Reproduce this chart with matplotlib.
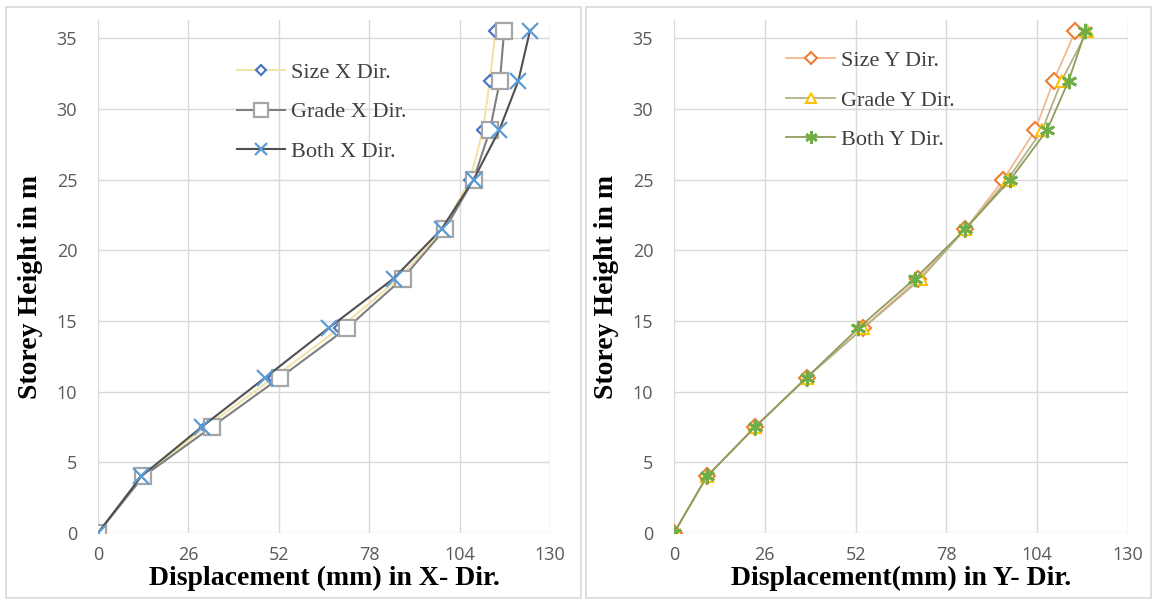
import matplotlib
matplotlib.use("Agg")
import matplotlib.pyplot as plt
from matplotlib.patches import Rectangle

# ---------------- data ----------------
heights = [0, 4, 7.5, 11, 14.5, 18, 21.5, 25, 28.5, 32, 35.5]

size_x = [0, 12.6, 31.0, 50.5, 69.5, 86.5, 99.3, 107.0, 110.7, 112.7, 114.3]
grade_x = [0, 13.0, 32.7, 52.4, 71.6, 87.6, 99.8, 108.0, 112.7, 115.6, 116.8]
both_x = [0, 12.4, 29.8, 48.1, 66.3, 85.0, 98.8, 108.0, 115.4, 120.9, 124.2]

size_y = [0, 9.4, 23.2, 38.0, 54.0, 70.0, 83.4, 94.3, 103.4, 108.7, 114.9]
grade_y = [0, 9.4, 23.2, 38.0, 54.2, 70.7, 83.4, 95.5, 105.4, 111.0, 118.3]
both_y = [0, 9.4, 23.2, 38.0, 52.8, 69.0, 83.4, 96.3, 106.8, 113.0, 117.8]

x_ticks = [0, 26, 52, 78, 104, 130]
y_ticks = [0, 5, 10, 15, 20, 25, 30, 35]

labels_x = ["Size X Dir.", "Grade X Dir.", "Both X Dir."]
labels_y = ["Size Y Dir.", "Grade Y Dir.", "Both Y Dir."]

# ---------------- figure ----------------
fig = plt.figure(figsize=(11.56, 6.0), dpi=100)
W, H = 1156, 600

# panel frames
for (x0, x1) in [(6, 581), (586, 1151)]:
    fig.patches.append(Rectangle((x0 / W, 1 - 598 / H), (x1 - x0) / W, (598 - 7) / H,
                                 transform=fig.transFigure, fill=False,
                                 edgecolor="#d9d9d9", linewidth=1.2))

serif = "Liberation Serif"
tickfont = "Open Sans"

def style_axes(ax):
    ax.set_xlim(0, 130)
    ax.set_ylim(0, 36.3)
    ax.set_xticks(x_ticks)
    ax.set_yticks(y_ticks)
    ax.grid(True, color="#d9d9d9", linewidth=1.0)
    ax.set_axisbelow(True)
    for s in ax.spines.values():
        s.set_visible(False)
    ax.tick_params(length=0, labelsize=13, labelcolor="#595959")
    ax.tick_params(axis="y", pad=15)
    ax.tick_params(axis="x", pad=9)
    for lab in ax.get_xticklabels() + ax.get_yticklabels():
        lab.set_fontfamily(tickfont)

def style_legend(leg):
    for t in leg.get_texts():
        t.set_color("#404040")

# ---------- left ----------
axL = fig.add_axes([98 / W, 1 - 533 / H, 452 / W, 513 / H])
style_axes(axL)
axL.plot(size_x, heights, color="#f2e3a8", lw=1.5, marker="D", ms=6.5,
         mfc="white", mec="#4472c4", mew=1.5, label=labels_x[0], zorder=3)
axL.plot(grade_x, heights, color="#7f7f7f", lw=1.5, marker="s", ms=12,
         mfc="white", mec="#a5a5a5", mew=1.6, label=labels_x[1], zorder=4)
axL.plot(both_x, heights, color="#505050", lw=1.5, marker="x", ms=11,
         mec="#5b9bd5", mew=1.6, label=labels_x[2], zorder=5)
axL.set_xlabel("Displacement (mm) in X- Dir.", family=serif, fontweight="bold",
               fontsize=20, color="black", labelpad=2)
axL.set_ylabel("Storey Height in m", family=serif, fontweight="bold",
               fontsize=20, color="black")
axL.yaxis.set_label_coords(-0.122, 0.48)
legL = axL.legend(loc="upper left", bbox_to_anchor=(0.282, 0.939), frameon=False,
                  prop={"family": serif, "size": 16}, handlelength=2.2,
                  handletextpad=0.25, labelspacing=0.85, borderpad=0,
                  markerscale=0.8)
style_legend(legL)

# ---------- right ----------
axR = fig.add_axes([674 / W, 1 - 533 / H, 454 / W, 513 / H])
style_axes(axR)
axR.plot(size_y, heights, color="#f2b98f", lw=1.3, marker="D", ms=8,
         mfc="white", mec="#ed7d31", mew=1.5, label=labels_y[0], zorder=3)
axR.plot(grade_y, heights, color="#b5b08a", lw=1.3, marker="^", ms=9,
         mfc="white", mec="#ffc000", mew=1.5, label=labels_y[1], zorder=4)
axR.plot(both_y, heights, color="#8f9c5a", lw=1.3, marker=(6, 2, 0), ms=11,
         mec="#70ad47", mew=2.0, label=labels_y[2], zorder=5)
axR.set_xlabel("Displacement(mm) in Y- Dir.", family=serif, fontweight="bold",
               fontsize=20, color="black", labelpad=2)
axR.set_ylabel("Storey Height in m", family=serif, fontweight="bold",
               fontsize=20, color="black")
axR.yaxis.set_label_coords(-0.121, 0.48)
legR = axR.legend(loc="upper left", bbox_to_anchor=(0.223, 0.962), frameon=False,
                  prop={"family": serif, "size": 16}, handlelength=2.2,
                  handletextpad=0.25, labelspacing=0.85, borderpad=0,
                  markerscale=0.8)
style_legend(legR)

fig.savefig("out.png", dpi=100)
